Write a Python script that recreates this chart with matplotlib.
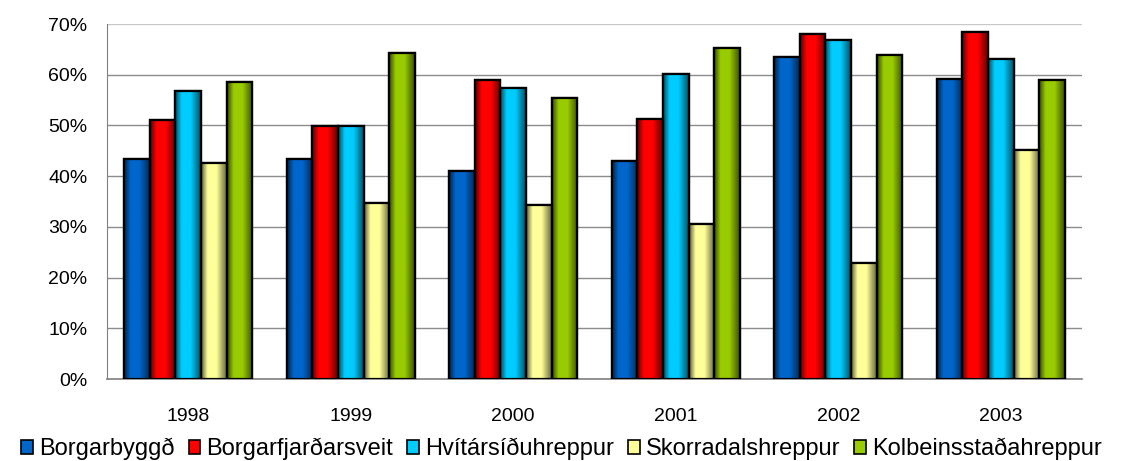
import numpy as np
import matplotlib
matplotlib.use("Agg")
import matplotlib.pyplot as plt
from matplotlib.colors import LinearSegmentedColormap, to_rgb

years = ["1998", "1999", "2000", "2001", "2002", "2003"]
series_names = ["Borgarbyggð", "Borgarfjarðarsveit", "Hvítársíðuhreppur",
                "Skorradalshreppur", "Kolbeinsstaðahreppur"]
borgarbyggd = [43.4, 43.4, 41.0, 43.0, 63.5, 59.2]
borgarfjardarsveit = [51.1, 49.9, 59.0, 51.3, 68.0, 68.4]
hvitarsiduhreppur = [56.8, 49.9, 57.4, 60.1, 66.8, 63.1]
skorradalshreppur = [42.6, 34.7, 34.3, 30.6, 22.9, 45.2]
kolbeinsstadahreppur = [58.6, 64.3, 55.4, 65.3, 63.9, 59.0]
values = [borgarbyggd, borgarfjardarsveit, hvitarsiduhreppur,
          skorradalshreppur, kolbeinsstadahreppur]
colors = ["#0066CC", "#FF0000", "#00CCFF", "#FFFF99", "#99CC00"]
yticks = [0, 10, 20, 30, 40, 50, 60, 70]

plt.rcParams['font.family'] = ['Liberation Sans', 'DejaVu Sans']

fig = plt.figure(figsize=(11.23, 4.61), dpi=100)
ax = fig.add_axes([107/1123, 1 - 379/461, (1082-107)/1123, (379-24)/461])

x = np.arange(len(years))
bw = 0.157
offsets = (np.arange(5) - 2) * bw

def shade(c, f):
    r = np.array(to_rgb(c))
    if f < 1:
        return tuple(r * f)
    return tuple(r + (1 - r) * (f - 1))

grad_x = np.linspace(0, 1, 64)
for i, (vals, col) in enumerate(zip(values, colors)):
    cmap = LinearSegmentedColormap.from_list(
        "g%d" % i,
        [(0.0, shade(col, 0.35)), (0.25, shade(col, 1.0)),
         (0.6, shade(col, 1.0)), (1.0, shade(col, 0.4))])
    bars = ax.bar(x + offsets[i], vals, width=bw, color=col,
                  edgecolor="black", linewidth=1.6, zorder=3,
                  label=series_names[i])
    for b in bars:
        bx, by = b.get_x(), b.get_y()
        w, h = b.get_width(), b.get_height()
        im = ax.imshow(grad_x[np.newaxis, :], cmap=cmap, aspect="auto",
                       extent=(bx, bx + w, by, by + h), zorder=3.5,
                       interpolation="bilinear")
        im.set_clip_path(b)
        ax.bar(bx + w / 2, h, width=w, fill=False, edgecolor="black",
               linewidth=1.6, zorder=4)

ax.set_xlim(-0.5, len(years) - 0.5)
ax.set_ylim(0, 70)
ax.set_yticks(yticks)
ax.set_yticklabels(["%d%%" % v for v in yticks])
ax.set_xticks(x)
ax.set_xticklabels(years)
ax.tick_params(axis="y", length=0, labelsize=14, pad=14)
ax.tick_params(axis="x", length=0, labelsize=14, pad=21)
ax.grid(axis="y", color="#8c8c8c", linewidth=1, zorder=0)
gl = ax.get_ygridlines()
gl[-1].set_color("#c8c8c8")
ax.set_axisbelow(True)
for s in ["top", "right"]:
    ax.spines[s].set_visible(False)
ax.spines["left"].set_color("#808080")
ax.spines["bottom"].set_color("#808080")
ax.spines["bottom"].set_linewidth(1.2)

handles = [plt.Rectangle((0, 0), 1, 1, facecolor=c, edgecolor="black", linewidth=1.2)
           for c in colors]
fig.legend(handles, series_names, loc="center", bbox_to_anchor=(0.5, 1 - 449/461),
           ncol=5, frameon=False, fontsize=17, handlelength=0.5, handleheight=0.5,
           handletextpad=0.25, columnspacing=0.6, borderpad=0)

fig.savefig("out.png", dpi=100)
